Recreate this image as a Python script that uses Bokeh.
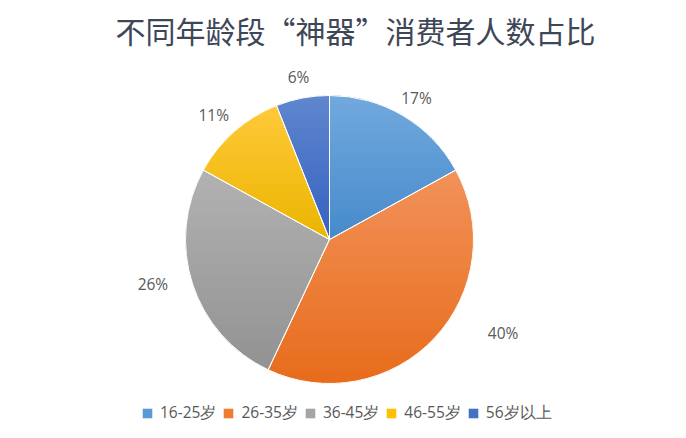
import numpy as np
from bokeh.plotting import figure
from bokeh.models import Range1d, Label, Legend, LegendItem, ColumnDataSource
from bokeh.core.properties import value
from bokeh.embed import file_html
from bokeh.resources import INLINE

# ---- data ----
categories = ["16-25岁", "26-35岁", "36-45岁", "46-55岁", "56岁以上"]
shares = [17, 40, 26, 11, 6]
title_text = "不同年龄段“神器”消费者人数占比"

# ---- style ----
base_colors = ["#5B9BD5", "#ED7D31", "#A5A5A5", "#FFC000", "#4472C4"]
top_colors = ["#72A9DE", "#F2925A", "#B2B2B2", "#FFC93A", "#5F86CF"]
bottom_colors = ["#468ACB", "#E76C1B", "#929292", "#EBB500", "#3462BF"]
label_shift_deg = [1.0, -15.0, 4.0, -1.5, 0.0]
label_radius = [166, 197, 182, 170, 165]
text_color = "#595959"

W, H = 670, 422
IMG_H = 438
cx, cy, R = 329.0, IMG_H - 239.0, 144.0

p = figure(width=W, height=H, x_range=Range1d(0, W), y_range=Range1d(IMG_H - H, IMG_H),
           output_backend="svg", toolbar_location=None, x_axis_type=None,
           y_axis_type=None, min_border=0, outline_line_color=None)
p.grid.visible = False
p.background_fill_color = "white"
p.border_fill_color = "white"

total = float(sum(shares))
fr = np.array(shares) / total
c1 = np.cumsum(fr)
c0 = c1 - fr

src = ColumnDataSource(dict(
    cat=categories,
    start=(np.pi / 2 - 2 * np.pi * c0).tolist(),
    end=(np.pi / 2 - 2 * np.pi * c1).tolist(),
    color=base_colors,
))

base = p.wedge(x=cx, y=cy, radius=R, start_angle="start", end_angle="end",
               direction="clock", fill_color="color", line_color=None, source=src)

# ---- gradient bands for each slice ----
def clip(poly, keep, inter):
    out = []
    n = len(poly)
    for i in range(n):
        cur = poly[i]
        prev = poly[i - 1]
        if keep(cur):
            if not keep(prev):
                out.append(inter(prev, cur))
            out.append(cur)
        elif keep(prev):
            out.append(inter(prev, cur))
    return out

def hinter(a):
    def f(pp, cc):
        t = (a - pp[1]) / (cc[1] - pp[1])
        return (pp[0] + t * (cc[0] - pp[0]), a)
    return f

def hexrgb(h):
    h = h.lstrip("#")
    return [int(h[i:i + 2], 16) for i in (0, 2, 4)]

def mix(a, b, t):
    ca, cb = hexrgb(a), hexrgb(b)
    return "#%02x%02x%02x" % tuple(int(round(ca[k] + (cb[k] - ca[k]) * t)) for k in range(3))

bx, by, bc = [], [], []
NB = 48
for i in range(len(shares)):
    t0 = 2 * np.pi * c0[i]
    t1 = 2 * np.pi * c1[i]
    n = max(8, int(fr[i] * 360))
    th = np.linspace(t0, t1, n + 1)
    poly = [(cx, cy)] + [(cx + R * np.sin(t), cy + R * np.cos(t)) for t in th]
    ys = [q[1] for q in poly]
    ymin, ymax = min(ys), max(ys)
    hgt = (ymax - ymin) / NB
    for k in range(NB):
        hi = ymax - k * hgt
        lo = hi - hgt - 0.8
        pg = clip(poly, lambda q, lo=lo: q[1] >= lo, hinter(lo))
        if len(pg) < 3:
            continue
        pg = clip(pg, lambda q, hi=hi: q[1] <= hi, hinter(hi))
        if len(pg) < 3:
            continue
        bx.append([q[0] for q in pg])
        by.append([q[1] for q in pg])
        bc.append(mix(top_colors[i], bottom_colors[i], (k + 0.5) / NB))

p.patches(xs=bx, ys=by, fill_color=bc, line_color=None)

# white separators
p.wedge(x=cx, y=cy, radius=R, start_angle="start", end_angle="end",
        direction="clock", fill_color=None, line_color="white", line_width=1,
        source=src)

# ---- percentage labels ----
mid = 2 * np.pi * (c0 + c1) / 2 + np.radians(label_shift_deg)
lx = cx + np.array(label_radius) * np.sin(mid)
ly = cy + np.array(label_radius) * np.cos(mid)
pct = ["%d%%" % s for s in shares]
p.text(x=lx.tolist(), y=ly.tolist(), text=pct, text_align="center",
       text_baseline="middle", text_font=value("Open Sans"),
       text_font_size="15.5px", text_color=text_color)

# ---- title ----
p.add_layout(Label(x=355, y=IMG_H - 29, text=title_text, text_align="center",
                   text_baseline="middle", text_font="Noto Sans CJK SC",
                   text_font_size="30px", text_color="#3E4757"))

# ---- legend ----
items = [LegendItem(label=categories[i], renderers=[base], index=i)
         for i in range(len(categories))]
legend = Legend(items=items, orientation="horizontal", location=(141, -2),
                glyph_width=12, glyph_height=12, label_standoff=7, spacing=6,
                label_height=14, padding=0, margin=0, border_line_color=None,
                background_fill_alpha=0, label_text_font="Open Sans",
                label_text_font_size="15.5px", label_text_color=text_color)
p.add_layout(legend)

open("out.html", "w").write(file_html(p, INLINE))
